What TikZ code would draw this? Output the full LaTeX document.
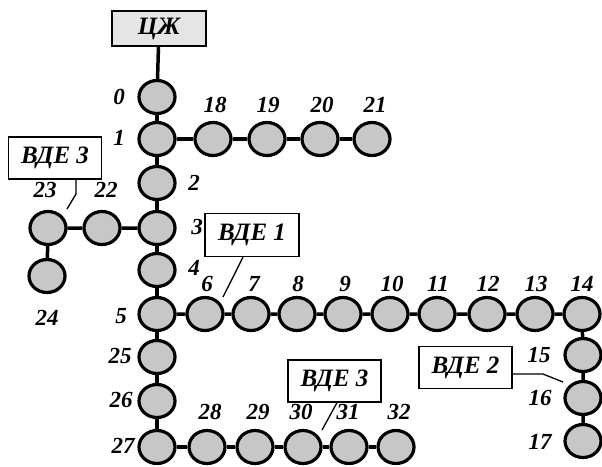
\documentclass[tikz,border=0pt]{standalone}
\usepackage{fontspec}
\setmainfont{Liberation Serif}
\usetikzlibrary{shapes.geometric}
\begin{document}
\begin{tikzpicture}[x=1pt,y=-1pt,
  nd/.style={ellipse,draw=black,line width=3.2pt,fill=black!22,minimum width=36pt,minimum height=33pt,inner sep=0pt},
  lab/.style={font=\fontsize{23}{23}\selectfont\bfseries\itshape,inner sep=0pt},
  box/.style={draw=black,line width=1.3pt,fill=white,font=\fontsize{25}{25}\selectfont\bfseries\itshape,inner sep=0pt},
  edge/.style={line width=3.5pt},
  lead/.style={line width=1.3pt}]
\useasboundingbox (0,0) rectangle (602,466);
% nodes
\node[nd] (n0) at (157,97) {};
\node[nd] (n1) at (157,139) {};
\node[nd] (n2) at (157,183) {};
\node[nd] (n3) at (157,228) {};
\node[nd] (n4) at (157,270) {};
\node[nd] (n5) at (157,314) {};
\node[nd] (n25) at (157,357) {};
\node[nd] (n26) at (157,401) {};
\node[nd] (n27) at (157,447) {};
\node[nd] (n18) at (213,139) {};
\node[nd] (n19) at (267,139) {};
\node[nd] (n20) at (320,139) {};
\node[nd] (n21) at (372,139) {};
\node[nd] (n22) at (102,228) {};
\node[nd] (n23) at (48,228) {};
\node[nd] (n24) at (47,276) {};
\node[nd] (n6) at (205,314) {};
\node[nd] (n7) at (251,314) {};
\node[nd] (n8) at (297,314) {};
\node[nd] (n9) at (343,314) {};
\node[nd] (n10) at (390,314) {};
\node[nd] (n11) at (437,314) {};
\node[nd] (n12) at (487,314) {};
\node[nd] (n13) at (535,314) {};
\node[nd] (n14) at (582,314) {};
\node[nd] (n15) at (583,355) {};
\node[nd] (n16) at (583,398) {};
\node[nd] (n17) at (583,441) {};
\node[nd] (n28) at (207,447) {};
\node[nd] (n29) at (255,447) {};
\node[nd] (n30) at (303,447) {};
\node[nd] (n31) at (349,447) {};
\node[nd] (n32) at (396,447) {};
% top box
\node[box,fill=black!10,minimum width=94pt,minimum height=35pt] (cz) at (159,28.5) {ЦЖ};
% edges
\draw[edge] (cz) -- (n0);
\draw[edge] (n0) -- (n1) -- (n2) -- (n3) -- (n4) -- (n5) -- (n25) -- (n26) -- (n27);
\draw[edge] (n1) -- (n18) -- (n19) -- (n20) -- (n21);
\draw[edge] (n3) -- (n22) -- (n23) -- (n24);
\draw[edge] (n5) -- (n6) -- (n7) -- (n8) -- (n9) -- (n10) -- (n11) -- (n12) -- (n13) -- (n14) -- (n15) -- (n16) -- (n17);
\draw[edge] (n27) -- (n28) -- (n29) -- (n30) -- (n31) -- (n32);
% labels
\node[lab] (l0) at (119,97) {0};
\node[lab] (l1) at (119,138) {1};
\node[lab] (l2) at (194,183) {2};
\node[lab] (l3) at (197,227) {3};
\node[lab] (l4) at (194,268) {4};
\node[lab] (l5) at (121,316) {5};
\node[lab] (l25) at (120,356) {25};
\node[lab] (l26) at (121,400) {26};
\node[lab] (l27) at (123,446) {27};
\node[lab] (l18) at (215,105) {18};
\node[lab] (l19) at (268,105) {19};
\node[lab] (l20) at (322,105) {20};
\node[lab] (l21) at (375,105) {21};
\node[lab] (l22) at (106,190) {22};
\node[lab] (l23) at (45,190) {23};
\node[lab] (l24) at (47,318) {24};
\node[lab] (l6) at (207,284) {6};
\node[lab] (l7) at (254,284) {7};
\node[lab] (l8) at (298,284) {8};
\node[lab] (l9) at (345,284) {9};
\node[lab] (l10) at (392,284) {10};
\node[lab] (l11) at (438,284) {11};
\node[lab] (l12) at (488,284) {12};
\node[lab] (l13) at (536,284) {13};
\node[lab] (l14) at (582,284) {14};
\node[lab] (l15) at (539,355) {15};
\node[lab] (l16) at (540,398) {16};
\node[lab] (l17) at (540,442) {17};
\node[lab] (l28) at (210,412) {28};
\node[lab] (l29) at (258,412) {29};
\node[lab] (l30) at (301,412) {30};
\node[lab] (l31) at (348,412) {31};
\node[lab] (l32) at (399,412) {32};
% annotation boxes
\node[box,minimum width=93pt,minimum height=42pt] (b3a) at (55,158) {ВДЕ 3};
\node[box,minimum width=94pt,minimum height=43pt] (b1) at (252,235) {ВДЕ 1};
\node[box,minimum width=93pt,minimum height=42pt] (b2) at (465.5,367.5) {ВДЕ 2};
\node[box,minimum width=93pt,minimum height=42pt] (b3b) at (334.5,381) {ВДЕ 3};
% leaders
\coordinate (t3a) at (67,209);
\coordinate (t1) at (223,297);
\coordinate (k2) at (543,374);
\coordinate (t2) at (563,382);
\coordinate (t3b) at (322,430);
\draw[lead] (b3a.south -| 76,0) -- (76,194) -- (t3a);
\draw[lead] (b1.south -| 243,0) -- (t1);
\draw[lead] (b2.east |- 0,374) -- (k2) -- (t2);
\draw[lead] (b3b.south -| 337,0) -- (t3b);
\end{tikzpicture}
\end{document}
